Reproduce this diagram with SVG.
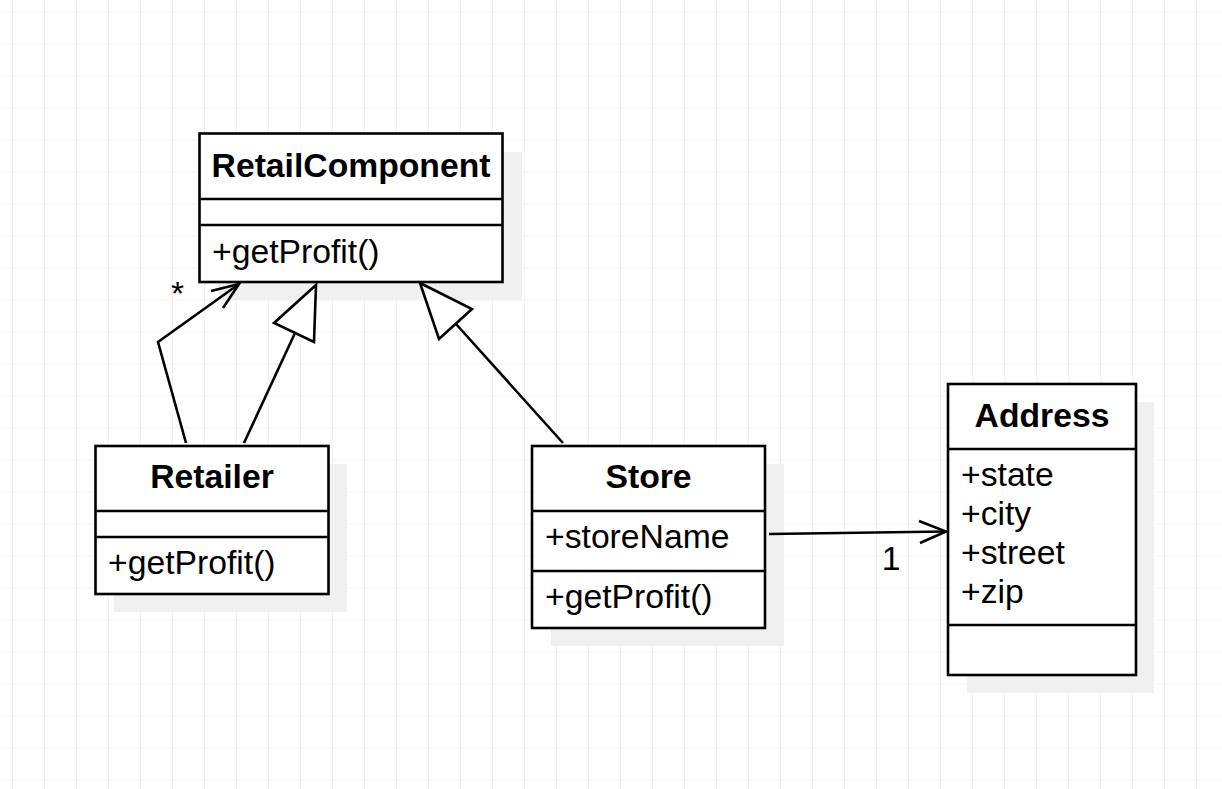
<svg xmlns="http://www.w3.org/2000/svg" width="1222" height="789" viewBox="0 0 1222 789">
<defs>
<pattern id="grid" x="12" y="11.5" width="32" height="32" patternUnits="userSpaceOnUse">
<path d="M0 0 H32 M0 0 V32" fill="none" stroke="#e8e8e8" stroke-width="1.2"/>
</pattern>
<style>
.box{fill:#fff;stroke:#000;stroke-width:2.6}
.sh{fill:#f0f0f0}
.ln{stroke:#000;stroke-width:2.6;fill:none}
.t{font-family:"Liberation Sans",Arial,sans-serif;font-size:33.7px;fill:#000}
.b{font-weight:bold;text-anchor:middle}
.c{fill:none;stroke:#000;stroke-width:2.6;stroke-linejoin:miter}
.tri{fill:#fff;stroke:#000;stroke-width:2.6}
</style>
</defs>
<rect width="1222" height="789" fill="#fff"/>
<rect width="1222" height="789" fill="url(#grid)"/>

<g id="RetailComponent">
<rect class="sh" x="218" y="152" width="304" height="148"/>
<rect class="box" x="199.5" y="133.5" width="303" height="148.5"/>
<line class="ln" x1="199.5" y1="199" x2="502.5" y2="199"/>
<line class="ln" x1="199.5" y1="225" x2="502.5" y2="225"/>
<text class="t b" x="351" y="177">RetailComponent</text>
<text class="t" x="212" y="263">+getProfit()</text>
</g>

<g id="Retailer">
<rect class="sh" x="114" y="464" width="233" height="148"/>
<rect class="box" x="95.5" y="446" width="233" height="148"/>
<line class="ln" x1="95.5" y1="511" x2="328.5" y2="511"/>
<line class="ln" x1="95.5" y1="537" x2="328.5" y2="537"/>
<text class="t b" x="212" y="488">Retailer</text>
<text class="t" x="108" y="574">+getProfit()</text>
</g>

<g id="Store">
<rect class="sh" x="551" y="464" width="233" height="182"/>
<rect class="box" x="532" y="446" width="233" height="182"/>
<line class="ln" x1="532" y1="511" x2="765" y2="511"/>
<line class="ln" x1="532" y1="571" x2="765" y2="571"/>
<text class="t b" x="648.5" y="488">Store</text>
<text class="t" x="545" y="548">+storeName</text>
<text class="t" x="545" y="608">+getProfit()</text>
</g>

<g id="Address">
<rect class="sh" x="967" y="402" width="187" height="291"/>
<rect class="box" x="948" y="384" width="188" height="291"/>
<line class="ln" x1="948" y1="449" x2="1136" y2="449"/>
<line class="ln" x1="948" y1="625" x2="1136" y2="625"/>
<text class="t b" x="1042" y="427">Address</text>
<text class="t" x="961" y="486">+state</text>
<text class="t" x="961" y="525">+city</text>
<text class="t" x="961" y="564">+street</text>
<text class="t" x="961" y="603">+zip</text>
</g>

<g id="connectors">
<polyline class="c" points="186,443 158,342 239,284"/>
<polyline class="c" points="211,291 239,284 223,308"/>
<text class="t" x="171" y="305">*</text>

<line class="ln" x1="244" y1="443" x2="295" y2="333"/>
<polygon class="tri" points="316,285 274,323 314,342"/>

<line class="ln" x1="563" y1="443" x2="456" y2="324"/>
<polygon class="tri" points="420,283 472,309 439,339"/>

<line class="ln" x1="769" y1="534" x2="946" y2="531.5"/>
<polyline class="c" points="919,521 946,531.5 920,543"/>
<text class="t" x="891" y="570" text-anchor="middle">1</text>
</g>
</svg>
